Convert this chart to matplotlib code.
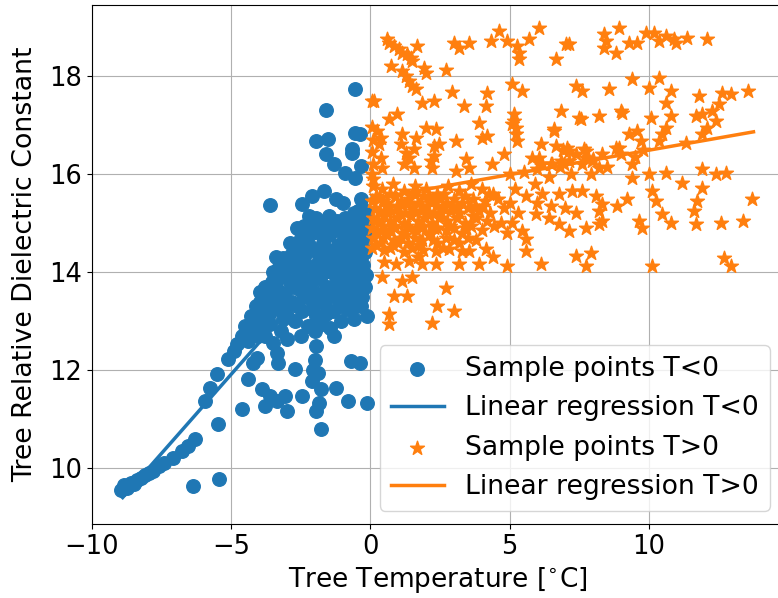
import numpy as np
import matplotlib
matplotlib.use('Agg')
import matplotlib.pyplot as plt

# sample points below freezing (temperature, dielectric constant)
cold_points = [
    (-8.95, 9.55), (-8.85, 9.65), (-8.75, 9.6), (-8.6, 9.7), (-8.5, 9.68), (-8.4, 9.75),
    (-8.25, 9.8), (-8.1, 9.85), (-7.95, 9.9), (-7.8, 9.95), (-7.6, 10.05), (-7.4, 10.1),
    (-7.1, 10.2), (-6.77, 10.35), (-6.55, 10.45), (-6.31, 10.59), (-6.38, 9.63), (-5.45, 9.78),
    (-5.48, 10.9), (-5.95, 11.37), (-5.77, 11.63), (-5.52, 11.92), (-5.13, 12.22), (-4.9, 12.4),
    (-4.8, 12.53), (-4.62, 11.2), (-4.41, 11.82), (-4.23, 12.14), (-4.09, 12.24), (-3.37, 12.35),
    (-3.33, 12.14), (-3.01, 12.63), (-3.5, 12.55), (-3.91, 11.61), (-3.8, 11.27), (-3.62, 11.47),
    (-3.37, 11.37), (-3.08, 11.47), (-3.01, 11.16), (-2.72, 12.02), (-2.44, 11.47), (-2.08, 11.78),
    (-1.76, 11.61), (-1.22, 11.63), (-1.83, 11.33), (-1.94, 11.16), (-1.76, 10.8), (-0.82, 11.37),
    (-0.14, 11.33), (-0.68, 12.18), (-0.39, 12.14), (-0.5, 13.3), (-0.14, 13.1),
    (-2.0, 12.8), (-1.95, 12.5), (-2.0, 12.2), (-1.9, 11.95), (-2.05, 12.0),
    (-0.54, 17.73), (-1.61, 17.31), (-0.54, 16.84), (-0.39, 16.82), (-1.94, 16.67), (-1.54, 16.71),
    (-0.65, 16.51), (-0.65, 16.43), (-1.61, 16.41), (-1.29, 16.2), (-0.32, 16.16), (-0.93, 16.02),
    (-0.57, 15.92), (-3.62, 15.37), (-2.44, 15.39), (-2.08, 15.55), (-1.65, 15.65), (-1.22, 15.49),
    (-1.0, 15.41), (-0.32, 15.49), (-0.29, 15.31),
    (-4.5, 12.9), (-4.3, 13.1), (-4.1, 13.3), (-3.98, 13.6), (-3.8, 13.7), (-3.5, 14.0),
    (-3.3, 14.1), (-3.15, 14.28), (-2.9, 14.6), (-2.65, 14.9), (-2.4, 14.95), (-1.94, 15.1),
    (-1.7, 15.0), (-1.5, 15.15), (-1.2, 15.05), (-0.9, 15.1), (-0.6, 15.2), (-0.35, 15.1),
    (-4.4, 12.6), (-4.2, 12.75), (-4.0, 12.9), (-3.9, 13.15), (-3.7, 13.35), (-3.6, 12.95),
    (-3.5, 13.5), (-3.4, 13.7), (-3.3, 13.3), (-3.2, 13.9), (-3.1, 13.55), (-3.0, 13.1),
    (-2.95, 14.2), (-2.9, 13.8), (-2.8, 13.4), (-2.75, 14.5), (-2.7, 13.0), (-2.6, 14.0),
    (-2.55, 13.65), (-2.5, 14.7), (-2.45, 13.2), (-2.4, 14.3), (-2.3, 13.85), (-2.25, 12.9),
    (-2.2, 14.55), (-2.15, 13.45), (-2.1, 14.8), (-2.05, 14.1), (-2.0, 13.6), (-1.95, 13.1),
    (-1.9, 14.4), (-1.85, 14.9), (-1.8, 13.85), (-1.75, 12.95), (-1.7, 14.6), (-1.65, 13.35),
    (-1.6, 14.2), (-1.55, 13.7), (-1.5, 14.75), (-1.45, 12.85), (-1.4, 14.0), (-1.35, 13.2),
    (-1.3, 14.45), (-1.25, 13.55), (-1.2, 14.85), (-1.1, 13.95), (-1.05, 13.0), (-1.0, 14.3),
    (-0.95, 14.65), (-0.9, 13.5), (-0.85, 14.95), (-0.8, 14.1), (-0.75, 13.3), (-0.7, 14.5),
    (-0.65, 13.8), (-0.6, 14.8), (-0.55, 14.25), (-0.5, 13.6), (-0.45, 14.6), (-0.4, 14.0),
    (-0.35, 14.85), (-0.3, 14.35), (-0.25, 13.85), (-0.22, 14.65), (-0.2, 15.0), (-0.3, 13.5),
    (-0.6, 13.05), (-1.3, 12.7), (-2.5, 12.7), (-3.2, 12.8), (-3.8, 12.7), (-4.6, 12.7),
    (-3.4, 14.3), (-2.2, 15.15), (-1.0, 14.95), (-0.45, 15.25),
    (-4.35, 12.85), (-4.15, 13.05), (-4.05, 12.7), (-3.95, 13.4), (-3.85, 12.95), (-3.75, 13.55),
    (-3.65, 13.15), (-3.55, 13.8), (-3.45, 13.25), (-3.35, 13.95), (-3.25, 13.6), (-3.15, 13.05),
    (-3.05, 14.0), (-2.95, 13.35), (-2.85, 14.35), (-2.8, 13.7), (-2.7, 14.15), (-2.65, 13.3),
    (-2.55, 14.45), (-2.5, 13.9), (-2.4, 13.5), (-2.35, 14.75), (-2.3, 14.15), (-2.2, 13.7),
    (-2.15, 14.95), (-2.1, 13.25), (-2.05, 14.45), (-1.95, 13.9), (-1.85, 14.25), (-1.8, 13.5),
    (-1.75, 14.75), (-1.65, 14.0), (-1.6, 13.15), (-1.55, 14.45), (-1.45, 13.5), (-1.4, 14.95),
    (-1.35, 14.2), (-1.25, 13.8), (-1.15, 14.55), (-1.1, 13.3), (-1.05, 14.15), (-0.95, 13.75),
    (-0.9, 14.45), (-0.85, 13.25), (-0.75, 14.75), (-0.7, 13.95), (-0.65, 13.55), (-0.55, 14.45),
    (-0.5, 15.0), (-0.45, 13.95), (-0.4, 14.7), (-0.35, 13.3), (-0.3, 15.05), (-0.25, 14.15),
    (-0.2, 13.7), (-0.2, 14.4), (-0.15, 14.85), (-0.15, 15.2), (-0.15, 13.95),
]

# sample points above freezing
warm_points = [
    # upper scatter
    (0.61, 18.76), (0.68, 18.67), (0.86, 18.61), (1.04, 18.55), (1.15, 18.47), (1.33, 18.45),
    (1.47, 18.37), (1.51, 18.31), (1.68, 18.61), (0.75, 18.2), (1.15, 18.1), (1.29, 18.0),
    (1.4, 17.9), (1.51, 17.8), (1.65, 17.73), (2.0, 18.06), (1.94, 18.16), (2.72, 18.12),
    (3.01, 18.67), (3.19, 18.57), (3.55, 18.67), (4.34, 18.71), (4.62, 18.92), (4.91, 18.71),
    (5.27, 18.61), (5.34, 18.47), (5.34, 18.35), (5.7, 18.76), (6.06, 18.98), (6.67, 18.35),
    (7.03, 18.65), (0.14, 17.49), (2.94, 17.67), (1.86, 17.45), (2.29, 17.49), (3.37, 17.39),
    (4.19, 17.65), (4.16, 17.39), (5.09, 17.84), (5.45, 17.69), (6.85, 17.29), (0.68, 17.12),
    (0.97, 17.22), (0.22, 16.88), (0.39, 16.73), (0.32, 16.61), (1.15, 16.82), (1.11, 16.61),
    (1.65, 16.73), (2.0, 16.94), (2.37, 16.92), (2.29, 16.57), (2.47, 16.61), (3.08, 16.67),
    (3.91, 17.04), (4.01, 16.73), (4.19, 16.78), (5.16, 17.22), (5.16, 17.08), (5.23, 16.94),
    (5.23, 16.82), (5.27, 16.67), (5.09, 17.02), (6.6, 16.92), (6.13, 16.61), (6.67, 16.57),
    (0.39, 16.33), (0.43, 16.12), (1.29, 16.43), (1.4, 16.33), (1.58, 16.51), (1.22, 16.2),
    (2.19, 16.27), (2.29, 16.37), (2.22, 16.12), (1.58, 16.12), (3.44, 16.31), (3.55, 16.12),
    (3.08, 16.06), (4.37, 16.2), (4.8, 16.41), (5.81, 16.33), (6.17, 16.2), (6.49, 16.2),
    (6.85, 16.27), (8.92, 18.98), (8.39, 18.86), (8.46, 18.71), (8.39, 18.57), (8.82, 18.47),
    (7.13, 18.65), (9.28, 18.67), (9.57, 18.67), (9.89, 18.88), (10.18, 18.88), (10.36, 18.71),
    (10.61, 18.82), (10.9, 18.76), (10.97, 18.67), (11.36, 18.78), (12.08, 18.76), (9.39, 17.94),
    (10.36, 17.96), (10.0, 17.76), (10.79, 17.69), (7.38, 17.8), (7.6, 17.69), (8.57, 17.73),
    (9.0, 17.29), (8.21, 17.18), (7.56, 17.12), (7.49, 17.14), (9.03, 17.24), (11.79, 17.59),
    (12.62, 17.65), (12.94, 17.63), (13.58, 17.69), (12.26, 17.29), (11.9, 17.22), (11.68, 17.18),
    (12.51, 17.43), (12.4, 17.08), (12.08, 16.94), (11.9, 16.82), (10.07, 17.14), (10.79, 17.18),
    (10.61, 16.94), (10.47, 16.82), (10.36, 16.67), (10.6, 17.45), (9.28, 16.82), (9.57, 16.88),
    (9.71, 16.67), (8.92, 16.53), (8.32, 16.41), (7.96, 16.27), (7.67, 16.51), (7.06, 16.53),
    (6.95, 16.2), (11.33, 16.63), (9.39, 16.2), (10.61, 16.02), (11.9, 16.1), (12.4, 16.0),
    (12.76, 16.02), (7.92, 16.0), (6.6, 16.88), (7.13, 16.47), (7.74, 16.47), (8.82, 16.53),
    (8.21, 16.12), (7.74, 16.33), (7.13, 16.27), (6.52, 16.2), (6.06, 16.33), (10.0, 16.0),
    # column at zero
    (0.05, 17.49), (0.05, 16.96), (0.08, 16.7), (0.05, 16.45), (0.1, 16.2), (0.05, 16.0), (0.1, 15.9),
    # dense band
    (0.1, 15.75), (0.4, 15.7), (0.8, 15.8), (1.2, 15.65), (1.6, 15.75), (2.0, 15.7),
    (2.4, 15.6), (2.8, 15.75), (3.2, 15.65), (3.6, 15.8), (4.0, 15.7), (4.4, 15.6),
    (0.05, 15.45), (0.3, 15.5), (0.6, 15.4), (0.9, 15.55), (1.1, 15.45), (1.4, 15.5),
    (1.7, 15.4), (1.9, 15.55), (2.2, 15.45), (2.5, 15.5), (2.7, 15.4), (3.0, 15.5),
    (3.3, 15.4), (3.7, 15.5), (4.1, 15.45), (4.6, 15.5), (5.0, 15.4),
    (0.15, 15.3), (0.35, 15.2), (0.55, 15.35), (0.75, 15.25), (1.0, 15.3), (1.25, 15.2),
    (1.5, 15.3), (1.8, 15.25), (2.05, 15.35), (2.3, 15.2), (2.6, 15.3), (2.9, 15.25),
    (3.2, 15.2), (3.5, 15.3), (3.9, 15.25), (4.3, 15.2), (4.8, 15.3),
    (0.1, 15.1), (0.3, 15.0), (0.5, 15.15), (0.7, 15.05), (0.95, 15.1), (1.2, 15.0),
    (1.45, 15.15), (1.7, 15.05), (1.95, 15.1), (2.2, 15.0), (2.45, 15.1), (2.75, 15.05),
    (3.1, 15.1), (3.4, 15.0), (3.8, 15.1), (4.2, 15.05), (4.7, 15.0),
    (0.05, 14.9), (0.25, 14.8), (0.45, 14.95), (0.65, 14.85), (0.9, 14.9), (1.15, 14.8),
    (1.4, 14.9), (1.65, 14.85), (1.9, 14.95), (2.15, 14.8), (2.4, 14.9), (2.7, 14.85),
    (3.0, 14.9), (3.3, 14.8), (3.6, 14.95), (4.0, 14.85),
    (0.1, 14.7), (0.35, 14.6), (0.6, 14.75), (0.85, 14.65), (1.1, 14.7), (1.35, 14.6),
    (1.6, 14.7), (1.85, 14.65), (2.1, 14.75), (2.4, 14.6), (2.7, 14.7), (3.0, 14.65), (3.5, 14.7),
    (0.05, 14.5), (0.5, 14.45), (0.8, 14.55), (1.2, 14.4), (1.5, 14.5), (1.9, 14.45),
    (2.37, 14.43), (2.83, 14.47), (3.3, 14.43), (3.55, 14.43), (4.16, 14.47),
    (0.2, 15.55), (0.45, 15.45), (0.7, 15.6), (0.95, 15.35), (1.3, 15.4), (1.55, 15.6),
    (1.85, 15.35), (2.1, 15.55), (2.35, 15.35), (2.65, 15.6), (2.95, 15.35), (3.4, 15.55),
    (3.75, 15.35), (4.25, 15.6),
    (0.2, 15.05), (0.4, 14.85), (0.6, 15.25), (0.85, 14.95), (1.05, 15.2), (1.3, 14.95),
    (1.55, 15.25), (1.8, 14.9), (2.05, 15.2), (2.3, 14.9), (2.55, 15.2), (2.85, 14.95),
    (3.15, 15.3), (3.45, 14.9), (3.7, 15.15), (4.05, 15.35), (4.45, 14.95),
    (0.2, 14.55), (0.45, 14.7), (0.7, 14.5), (1.0, 14.6), (1.25, 14.75), (1.75, 14.55),
    (2.25, 14.65), (2.6, 14.5), (3.2, 14.6), (3.8, 14.65),
    # 5 to 10
    (5.2, 15.7), (5.6, 15.55), (5.9, 15.8), (6.17, 15.59), (6.77, 15.59), (7.24, 15.65),
    (7.6, 15.65), (8.1, 15.55), (8.32, 15.39), (5.95, 15.18), (6.42, 15.1), (6.77, 14.98),
    (7.13, 14.84), (7.74, 14.9), (8.21, 14.98), (5.45, 14.84), (5.59, 14.67), (5.59, 14.43),
    (5.3, 15.2), (5.1, 15.0), (4.9, 14.8), (6.0, 15.4), (6.5, 15.35), (7.0, 15.3), (7.4, 15.2),
    (8.85, 15.35), (9.21, 15.49), (8.32, 15.04), (8.21, 15.24), (7.38, 14.33), (7.92, 14.39),
    (7.74, 14.12), (6.13, 14.16), (4.91, 14.12),
    (5.0, 16.0), (5.5, 16.05), (6.0, 16.1), (6.4, 15.95), (6.8, 16.15), (7.2, 16.0),
    (7.6, 16.2), (8.0, 16.3), (8.5, 16.15), (9.0, 16.4), (9.5, 16.35), (9.8, 16.5),
    (6.9, 16.5), (7.4, 16.4),
    # right side
    (9.39, 15.92), (11.9, 15.71), (13.69, 15.5), (13.4, 15.04), (12.58, 15.0), (11.72, 15.45),
    (11.61, 15.24), (11.68, 14.98), (10.47, 15.18), (10.79, 15.0), (10.11, 15.65), (10.25, 15.45),
    (11.18, 15.82), (10.11, 14.12), (12.69, 14.29), (12.97, 14.12), (9.64, 15.04), (9.75, 14.9),
    # lower
    (0.86, 13.51), (1.33, 13.51), (0.68, 13.14), (0.68, 12.94), (2.22, 12.96), (2.4, 13.31),
    (3.01, 13.2), (2.72, 13.67), (0.93, 14.16), (1.4, 14.22), (1.86, 14.16), (1.15, 13.82),
    (1.5, 13.9), (3.19, 14.16), (3.91, 14.16), (2.37, 14.16), (0.5, 14.2), (0.4, 13.9),
    (1.7, 14.3), (4.4, 14.3),
]

# regression fits: slope, intercept, t range
cold_fit = (0.645, 15.14)
cold_range = (-8.9, -0.3)
warm_fit = (0.0997, 15.49)
warm_range = (0.0, 13.76)

cold_t, cold_eps = zip(*cold_points)
warm_t, warm_eps = zip(*warm_points)

fig = plt.figure(figsize=(7.78, 5.98), dpi=100)
ax = fig.add_axes([92 / 778, 74 / 598, (783 - 92) / 778, (524 - 5) / 598])

ax.scatter(cold_t, cold_eps, s=95, color='tab:blue', label='Sample points T<0', zorder=2)
tc = np.array(cold_range)
ax.plot(tc, cold_fit[0] * tc + cold_fit[1], color='tab:blue', lw=2.5,
        label='Linear regression T<0', zorder=3)
ax.scatter(warm_t, warm_eps, s=110, marker='*', color='tab:orange',
           label='Sample points T>0', zorder=4)
tw = np.array(warm_range)
ax.plot(tw, warm_fit[0] * tw + warm_fit[1], color='tab:orange', lw=2.5,
        label='Linear regression T>0', zorder=5)

ax.set_xlim(-10, 14.82)
ax.set_ylim(8.86, 19.45)
ax.set_xticks([-10, -5, 0, 5, 10])
ax.set_yticks([10, 12, 14, 16, 18])
ax.grid(True, zorder=0)
ax.set_axisbelow(True)
ax.tick_params(labelsize=18.5)
ax.set_xlabel('Tree Temperature [$^{\\circ}$C]', fontsize=19)
ax.set_ylabel('Tree Relative Dielectric Constant', fontsize=19.3, labelpad=8)
ax.legend(loc='lower right', fontsize=19.2)

fig.savefig('out.png', dpi=100)
